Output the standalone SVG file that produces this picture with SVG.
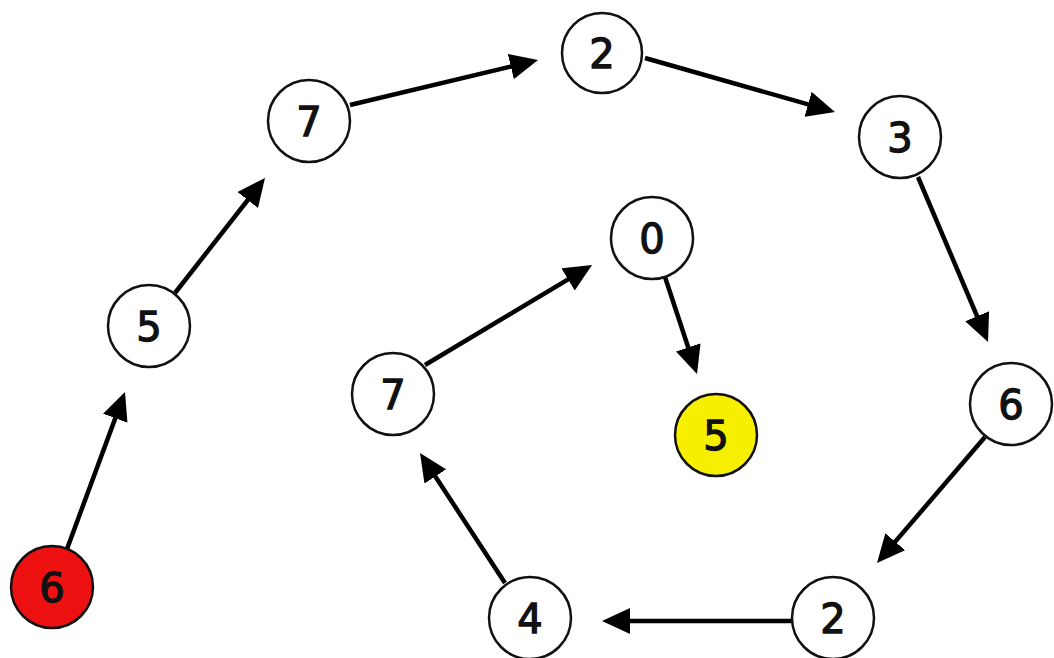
<svg xmlns="http://www.w3.org/2000/svg" width="1054" height="658" viewBox="0 0 1054 658">
<style>
.node circle{stroke:#111;stroke-width:2.5;fill:#fff}
.node text{font-family:"DejaVu Sans",Verdana,sans-serif;font-size:40px;fill:#111;stroke:#111;stroke-width:1.3;text-anchor:middle}
.edges line{stroke:#000;stroke-width:4.5}
</style>
<defs>
<marker id="ah" viewBox="0 0 28 26" refX="22" refY="13" markerWidth="28" markerHeight="26" markerUnits="userSpaceOnUse" orient="auto">
<path d="M0,0 L28,13 L0,26 z" fill="#000"/>
</marker>
</defs>
<rect width="1054" height="658" fill="#fff"/>
<g class="edges">
<line x1="67" y1="549" x2="122.9" y2="397.6" marker-end="url(#ah)"/>
<line x1="175" y1="293" x2="261.3" y2="182.7" marker-end="url(#ah)"/>
<line x1="350" y1="105" x2="532.2" y2="61.4" marker-end="url(#ah)"/>
<line x1="645" y1="58" x2="829.2" y2="110.4" marker-end="url(#ah)"/>
<line x1="918" y1="177" x2="985.7" y2="336.5" marker-end="url(#ah)"/>
<line x1="985" y1="437" x2="880.9" y2="558.4" marker-end="url(#ah)"/>
<line x1="792" y1="621" x2="608" y2="621" marker-end="url(#ah)"/>
<line x1="505" y1="583" x2="423.3" y2="458" marker-end="url(#ah)"/>
<line x1="425" y1="365" x2="586.9" y2="268.1" marker-end="url(#ah)"/>
<line x1="665" y1="277" x2="695.1" y2="368.3" marker-end="url(#ah)"/>
</g>
<g id="n1" class="node"><circle cx="52" cy="587" r="41" style="fill:#ee1111"/><text x="52" y="602">6</text></g>
<g id="n2" class="node"><circle cx="149" cy="326" r="41"/><text x="149" y="341">5</text></g>
<g id="n3" class="node"><circle cx="309" cy="121" r="41"/><text x="309" y="136">7</text></g>
<g id="n4" class="node"><circle cx="602" cy="53" r="40"/><text x="602" y="68">2</text></g>
<g id="n5" class="node"><circle cx="900" cy="137" r="41"/><text x="900" y="152">3</text></g>
<g id="n6" class="node"><circle cx="1011" cy="404" r="41"/><text x="1011" y="419">6</text></g>
<g id="n7" class="node"><circle cx="833" cy="618" r="41"/><text x="833" y="633">2</text></g>
<g id="n8" class="node"><circle cx="530" cy="618" r="41"/><text x="530" y="633">4</text></g>
<g id="n9" class="node"><circle cx="393" cy="394" r="41"/><text x="393" y="409">7</text></g>
<g id="n10" class="node"><circle cx="652" cy="238" r="41"/><text x="652" y="253">0</text></g>
<g id="n11" class="node"><circle cx="716" cy="435" r="41" style="fill:#f7ef00"/><text x="716" y="450">5</text></g>
</svg>
